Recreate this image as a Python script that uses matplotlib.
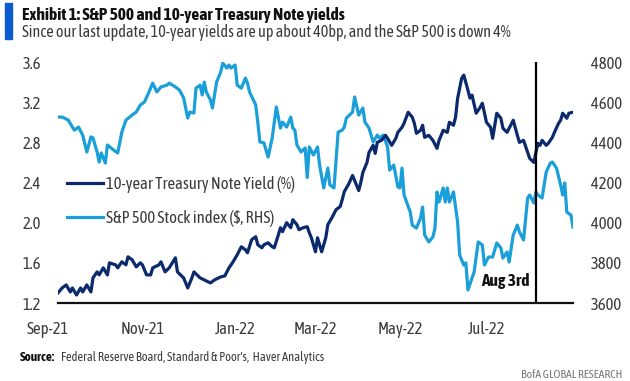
import numpy as np
import matplotlib
matplotlib.use('Agg')
import matplotlib.pyplot as plt
import matplotlib.transforms as mtransforms
from matplotlib.patches import Rectangle

plt.rcParams['font.family'] = ['Asap Condensed', 'Archivo Narrow', 'DejaVu Sans']

# trading-day index (0 = 1 Sep 2021, 250 = 29 Aug 2022) and values
spx_x = [0, 2, 5, 7, 8, 10, 12, 14, 16, 17, 19, 20, 21, 23, 24, 27, 29, 31, 33, 36, 38, 40, 42, 44,
         46, 48, 50, 53, 54, 57, 59, 61, 63, 64, 66, 67, 69, 70, 71, 72, 74, 75, 77, 79, 80, 82, 83,
         84, 86, 87, 89, 91, 92, 93, 96, 97, 98, 100, 102, 104, 105, 106, 108, 109, 111, 113, 114,
         115, 116, 118, 120, 121, 122, 124, 126, 127, 129, 131, 132, 134, 136, 138, 139, 140, 143,
         144, 146, 148, 149, 151, 153, 155, 156, 158, 160, 161, 163, 165, 166, 167, 168, 171, 172,
         174, 176, 177, 178, 180, 182, 183, 184, 185, 187, 188, 189, 190, 192, 194, 195, 197, 198,
         199, 201, 202, 204, 206, 207, 209, 211, 213, 215, 216, 218, 219, 221, 223, 224, 226, 228,
         229, 231, 232, 233, 235, 237, 239, 240, 242, 244, 245, 246, 247, 249, 250]
spx = [4526, 4526, 4511, 4476, 4461, 4476, 4436, 4352, 4427, 4422, 4352, 4302, 4347, 4297, 4387,
       4362, 4347, 4451, 4511, 4536, 4551, 4586, 4601, 4646, 4695, 4651, 4676, 4685, 4695, 4676,
       4660, 4621, 4521, 4551, 4546, 4670, 4685, 4636, 4700, 4651, 4611, 4571, 4700, 4750, 4795,
       4770, 4785, 4770, 4785, 4685, 4670, 4720, 4695, 4651, 4586, 4501, 4402, 4397, 4327, 4422,
       4501, 4576, 4471, 4501, 4476, 4526, 4471, 4461, 4387, 4352, 4372, 4225, 4377, 4337, 4377,
       4287, 4173, 4272, 4188, 4173, 4451, 4461, 4476, 4521, 4551, 4626, 4536, 4571, 4501, 4471,
       4402, 4436, 4422, 4436, 4377, 4262, 4287, 4178, 4173, 4272, 4138, 4053, 3988, 3973, 4023,
       4078, 3939, 3904, 3929, 3973, 4153, 4103, 4173, 4103, 4173, 4103, 4153, 4003, 3839, 3789,
       3800, 3665, 3724, 3754, 3904, 3889, 3789, 3829, 3829, 3899, 3874, 3824, 3854, 3804, 3939,
       3988, 3954, 3914, 4123, 4138, 4098, 4153, 4138, 4123, 4252, 4297, 4302, 4272, 4188, 4138,
       4198, 4053, 4038, 3978]

ust_x = [0, 2, 4, 6, 7, 9, 11, 12, 14, 16, 17, 19, 20, 22, 24, 25, 28, 29, 31, 33, 34, 36, 38, 40,
         41, 43, 45, 46, 49, 50, 52, 54, 57, 58, 61, 63, 65, 66, 69, 71, 74, 76, 79, 81, 83, 85, 87,
         89, 91, 92, 94, 96, 97, 99, 100, 102, 104, 105, 107, 108, 109, 111, 113, 114, 116, 117,
         119, 121, 122, 123, 125, 126, 128, 130, 131, 133, 135, 137, 138, 139, 141, 143, 144, 146,
         147, 148, 150, 151, 153, 154, 155, 157, 159, 160, 162, 164, 165, 167, 168, 170, 172, 173,
         174, 176, 177, 178, 180, 182, 184, 185, 187, 189, 190, 192, 193, 194, 196, 197, 199, 200,
         201, 203, 205, 206, 208, 210, 211, 213, 215, 216, 218, 219, 221, 223, 224, 226, 228, 229,
         231, 232, 233, 234, 235, 237, 238, 240, 241, 243, 244, 245, 247, 248, 250]
ust = [1.30, 1.35, 1.38, 1.31, 1.35, 1.28, 1.35, 1.31, 1.38, 1.31, 1.45, 1.51, 1.48, 1.55, 1.48,
       1.60, 1.58, 1.55, 1.61, 1.58, 1.66, 1.63, 1.56, 1.60, 1.58, 1.48, 1.48, 1.55, 1.58, 1.61,
       1.51, 1.55, 1.65, 1.51, 1.45, 1.35, 1.45, 1.51, 1.45, 1.43, 1.40, 1.43, 1.46, 1.47, 1.55,
       1.61, 1.68, 1.76, 1.73, 1.70, 1.83, 1.86, 1.78, 1.75, 1.78, 1.80, 1.76, 1.75, 1.88, 1.95,
       1.91, 2.00, 1.95, 2.03, 1.98, 1.93, 1.95, 1.96, 1.90, 1.85, 1.71, 1.85, 1.71, 1.85, 1.98,
       2.05, 2.13, 2.16, 2.23, 2.31, 2.38, 2.47, 2.42, 2.32, 2.40, 2.50, 2.60, 2.70, 2.77, 2.69,
       2.80, 2.82, 2.87, 2.84, 2.77, 2.84, 2.90, 2.95, 2.99, 3.10, 3.05, 2.99, 2.89, 2.92, 2.97,
       2.85, 2.87, 2.82, 2.74, 2.82, 2.92, 2.90, 3.00, 2.97, 3.05, 3.24, 3.44, 3.47, 3.32, 3.24,
       3.27, 3.09, 3.15, 3.19, 3.00, 2.95, 2.84, 3.09, 3.04, 2.94, 2.90, 2.94, 3.02, 2.87, 2.80,
       2.82, 2.70, 2.64, 2.60, 2.70, 2.79, 2.77, 2.82, 2.77, 2.79, 2.85, 2.90, 2.99, 3.02, 3.09,
       3.04, 3.09, 3.10]

month_labels = ['Sep-21', 'Nov-21', 'Jan-22', 'Mar-22', 'May-22', 'Jul-22']
month_pos = [-5, 41, 86, 125, 166, 208]
aug3 = 232

navy = '#0b2a6e'
light = '#1a9fd9'
grey = '#3c3c3c'

fig = plt.figure(figsize=(6.3, 3.81), dpi=100)
ax = fig.add_axes([0.092, 0.2047, 0.8175, 0.6325])
ax2 = ax.twinx()

l1, = ax.plot(ust_x, ust, color=navy, lw=2.3, label='10-year Treasury Note Yield (%)', zorder=3)
l2, = ax2.plot(spx_x, spx, color=light, lw=2.3, label='S&P 500 Stock index ($, RHS)', zorder=2)
ax.set_zorder(ax2.get_zorder() + 1)
ax.patch.set_visible(False)

ax.set_xlim(0, 250)
ax.set_ylim(1.2, 3.6)
ax2.set_ylim(3600, 4800)
ax.set_yticks(np.arange(1.2, 3.61, 0.4))
ax.set_yticklabels(['%.1f' % v for v in np.arange(1.2, 3.61, 0.4)])
ax2.set_yticks(np.arange(3600, 4801, 200))
ax.set_xticks([])

for a in (ax, ax2):
    for s in a.spines.values():
        s.set_visible(False)
    a.tick_params(length=0, labelsize=12, labelcolor=grey)
ax.tick_params(axis='y', pad=12)
ax2.tick_params(axis='y', pad=13)
ax.spines['bottom'].set_visible(True)
ax.spines['bottom'].set_linewidth(1.6)
ax.spines['bottom'].set_color('#111111')

trans = mtransforms.blended_transform_factory(ax.transData, ax.transAxes)
for lab, p in zip(month_labels, month_pos):
    ax.text(p, -0.11, lab, transform=trans, ha='center', va='center', fontsize=12, color=grey)

ax.axvline(aug3, color='black', lw=1.6, ymin=0, ymax=1.0, zorder=4)
ax.text(aug3 - 3, 0.09, 'Aug 3rd', transform=trans, ha='right', va='center',
        fontsize=12.5, fontweight='bold', color='#111111')

leg = ax.legend(handles=[l1, l2], loc='upper left', bbox_to_anchor=(-0.012, 0.59),
                frameon=False, fontsize=12, handlelength=2.17, handletextpad=0.2,
                labelspacing=1.05, labelcolor=grey)

fig.patches.append(Rectangle((0.008, 0.898), 0.011, 0.094, transform=fig.transFigure,
                             color='#0a5bd0', zorder=5))
fig.text(0.035, 0.961, 'Exhibit 1: S&P 500 and 10-year Treasury Note yields',
         fontsize=12.5, fontweight='bold', color='#111111', va='center')
fig.text(0.035, 0.914, 'Since our last update, 10-year yields are up about 40bp, and the S&P 500 is down 4%',
         fontsize=11.6, color=grey, va='center')
fig.text(0.032, 0.062, 'Source:', fontsize=9.5, fontweight='bold', color='#111111', va='center')
fig.text(0.097, 0.062, "Federal Reserve Board, Standard & Poor's,  Haver Analytics",
         fontsize=9, color=grey, va='center')
fig.text(0.988, 0.018, 'BofA GLOBAL RESEARCH', fontsize=8.5, color='#777777', ha='right', va='center')

fig.savefig('out.png', dpi=100)
